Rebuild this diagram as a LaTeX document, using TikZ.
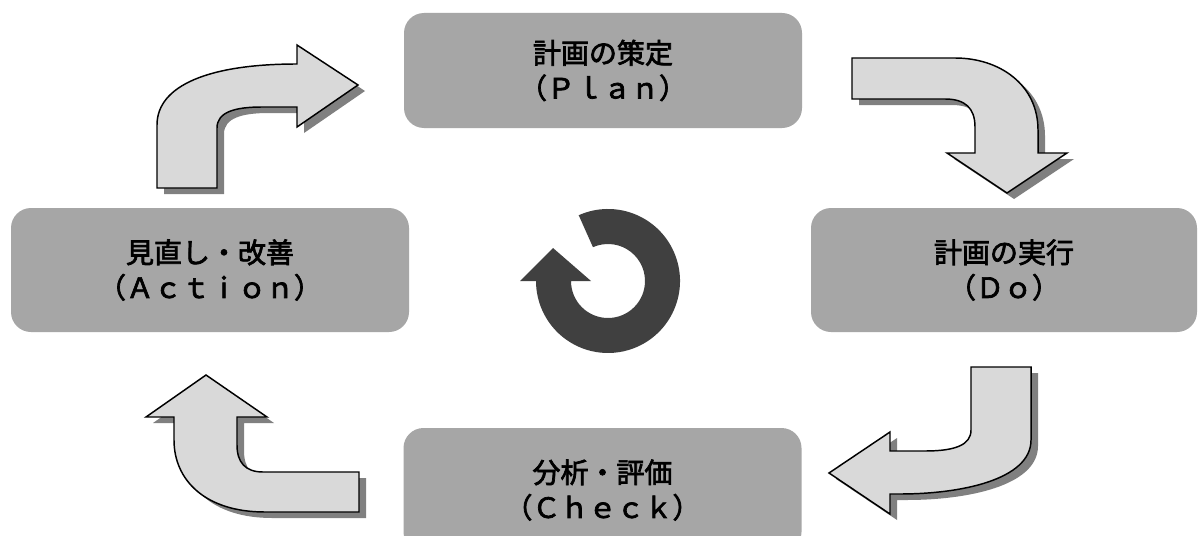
\documentclass[tikz,border=0pt]{standalone}
\usepackage{fontspec}
\newfontfamily\jp[FakeBold=2.5]{Noto Sans CJK JP}
\definecolor{boxgray}{HTML}{A6A6A6}
\definecolor{arrowgray}{HTML}{D9D9D9}
\definecolor{shadowgray}{HTML}{808080}
\definecolor{ringgray}{HTML}{404040}
\begin{document}
\begin{tikzpicture}[x=0.75pt,y=-0.75pt,
  box/.style={draw=none, fill=boxgray, rounded corners=15pt, align=center,
    font=\jp\fontsize{21}{26.25}\selectfont, inner sep=0pt},
  barrow/.style={fill=arrowgray, draw=black, line width=1.1pt, line join=miter},
  bshadow/.style={fill=shadowgray, draw=none, shift={(7,6)}}]
\clip (0,0) rectangle (1198,535);
\fill[white] (0,0) rectangle (1198,535);
% boxes
\node[box, minimum width=298.5pt, minimum height=86.25pt] (plan) at (603,70.5)
  {計画の策定\\（Ｐｌａｎ）};
\node[box, minimum width=289.5pt, minimum height=93pt] (do) at (1004,270)
  {計画の実行\\（Ｄｏ）};
\node[box, minimum width=298.5pt, minimum height=93pt] (action) at (210,270)
  {見直し・改善\\（Ａｃｔｉｏｎ）};
\node[box, minimum width=298.5pt, minimum height=93pt] (check) at (602.5,490)
  {分析・評価\\（Ｃｈｅｃｋ）};
% block arrows
\def\arrowA{(157,188) -- (157,125) .. controls (157,85) and (210,64) .. (297,64) -- (297,45) -- (358,85) -- (297,127) -- (297,107) -- (262,107) .. controls (235,107) and (217,112) .. (217,128) -- (217,188) -- cycle}
\def\arrowB{(852,58) -- (955,58) .. controls (1000,58) and (1038,85) .. (1038,130) -- (1038,153) -- (1067,153) -- (1007,193) -- (947,153) -- (975,153) -- (975,127) .. controls (975,108) and (965,99) .. (945,99) -- (852,99) -- cycle}
\def\arrowC{(971,367) -- (1031,367) -- (1031,440) .. controls (1031,480) and (960,494) .. (900,494) -- (890,494) -- (890,514) -- (829,473) -- (890,432) -- (890,451) -- (925,451) .. controls (955,451) and (971,445) .. (971,430) -- cycle}
\def\arrowD{(359,472) -- (359,512) -- (265,512) .. controls (205,512) and (174,480) .. (174,440) -- (174,417) -- (146,417) -- (206,375) -- (267,417) -- (237,417) -- (237,445) .. controls (237,462) and (245,472) .. (263,472) -- cycle}
\foreach \p in {\arrowA,\arrowB,\arrowC,\arrowD}{
  \fill[bshadow] \p;
  \filldraw[barrow] \p;
}
% central cycle symbol
\begin{scope}[shift={(608,281)}, y=0.75pt]
  \fill[ringgray] (114:72) arc[start angle=114, end angle=-180, radius=72]
    -- (-88,0) -- (-55,33) -- (-17,0) -- (-37,0)
    arc[start angle=-180, end angle=114, radius=37] -- cycle;
\end{scope}
\end{tikzpicture}
\end{document}
